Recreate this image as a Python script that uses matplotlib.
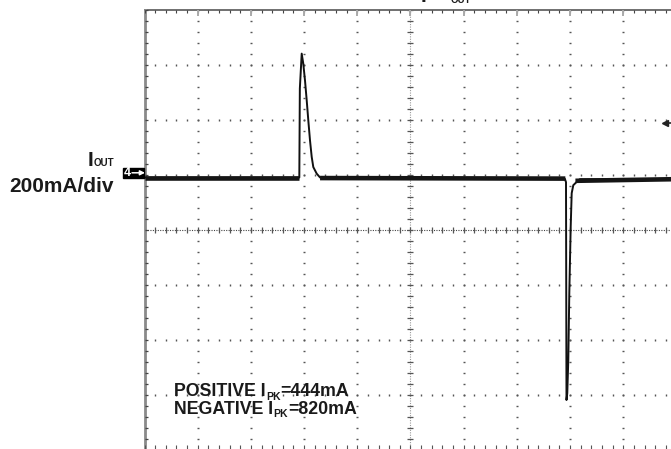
import matplotlib
matplotlib.use('Agg')
import matplotlib.pyplot as plt
import numpy as np
from matplotlib.patches import Rectangle

# ---------------- data (x: horizontal divisions, y: mA) ----------------
trace_x = [0.00, 2.91, 2.920, 2.955, 2.985, 3.017, 3.049, 3.079, 3.111, 3.143,
           3.173, 3.237, 3.300, 7.900, 7.923, 7.932, 7.947, 7.966, 7.985,
           8.011, 8.030, 8.060, 8.124, 8.186, 10.00]
trace_y = [-8, -8, 316, 443, 406, 345, 273, 200, 127, 67,
           30, 6, -8, -12, -25, -818, -793, -673, -429,
           -189, -65, -36, -24, -14, -14]
noise_x = [[0.00, 2.91], [3.30, 7.91], [8.10, 10.00]]
noise_y = [[-8, -8], [-10, -12], [-20, -14]]
trig_x, trig_level = 9.79, 190

ch_label = "I"
ch_sub = "OUT"
scale_label = "200mA/div"
ann_lines = [("POSITIVE I", "PK", "=444mA"), ("NEGATIVE I", "PK", "=820mA")]

N_XDIV, N_YDIV, MA_PER_DIV, Y_TOP = 10, 8, 200, 600
Y_BOT = Y_TOP - N_YDIV * MA_PER_DIV
Y_CENTER = (Y_TOP + Y_BOT) / 2

# ---------------- figure ----------------
W, H = 671, 449
fig = plt.figure(figsize=(W / 100, H / 100), dpi=100)
fig.patch.set_facecolor('white')
L_px, R_px, T_px, B_px = 144.5, 676.5, 10.5, 450.0
ax = fig.add_axes([L_px / W, 1 - B_px / H, (R_px - L_px) / W, (B_px - T_px) / H])
ax.set_xlim(0, N_XDIV)
ax.set_ylim(Y_BOT, Y_TOP)
ax.axis('off')
px_x = N_XDIV / (R_px - L_px)
px_y = (Y_TOP - Y_BOT) / (B_px - T_px)

minor_x = np.arange(0, N_XDIV + 1e-6, 0.2)
minor_y = np.arange(Y_BOT, Y_TOP + 1e-6, MA_PER_DIV / 5)
major_x = np.arange(1, N_XDIV)
major_y = np.arange(Y_BOT + MA_PER_DIV, Y_TOP, MA_PER_DIV)

# graticule dotted lines
for xv in major_x:
    if abs(xv - N_XDIV / 2) < 1e-6:
        continue
    ax.plot([xv] * len(minor_y), minor_y, ls='none', marker='_', ms=1.9,
            mew=1.0, color='#555555', clip_on=False)
for yv in major_y:
    if abs(yv - Y_CENTER) < 1e-6:
        continue
    ax.plot(minor_x, [yv] * len(minor_x), ls='none', marker='|', ms=1.1,
            mew=1.0, color='#555555', clip_on=False)

# center cross
ax.axvline(N_XDIV / 2, ls=(0, (1, 1.2)), color='#9a9a9a', lw=0.8)
ax.axhline(Y_CENTER, ls=(0, (1, 1.2)), color='#444444', lw=0.8)
ax.plot([N_XDIV / 2] * len(minor_y), minor_y, ls='none', marker='_', ms=5.0,
        mew=0.9, color='#555555')
ax.plot(minor_x, [Y_CENTER] * len(minor_x), ls='none', marker='|', ms=4.8,
        mew=0.9, color='#555555')

# border
ax.axhline(Y_TOP, color='#707070', lw=1.4, clip_on=False)
ax.axvline(0, color='#8a8a8a', lw=2.0, clip_on=False)
ax.vlines(minor_x, Y_TOP - 3 * px_y, Y_TOP, color='#444444', lw=0.8)
ax.vlines(major_x, Y_TOP - 6 * px_y, Y_TOP, color='#aaaaaa', lw=1.4)
ax.hlines(minor_y, 0, 3.5 * px_x, color='#444444', lw=0.9)
ax.vlines(minor_x, Y_BOT, Y_BOT + 5 * px_y, color='#555555', lw=0.8)

# trace
ax.plot(trace_x, trace_y, color='#111111', lw=1.4, zorder=5)
for sx, sy in zip(noise_x, noise_y):
    ax.plot(sx, sy, color='#151515', lw=3.3, zorder=5, solid_capstyle='butt')

# trigger marker
ax.plot([trig_x], [trig_level], marker='<', ms=5, color='#222222',
        clip_on=False, zorder=6)
ax.plot([trig_x, trig_x + 0.12], [trig_level, trig_level], color='#222222',
        lw=1.2, clip_on=False, zorder=6)

# ---------------- overlay (pixel coordinates) ----------------
ov = fig.add_axes([0, 0, 1, 1], zorder=5)
ov.set_xlim(0, W)
ov.set_ylim(H, 0)
ov.axis('off')
ov.patch.set_alpha(0)
renderer = fig.canvas.get_renderer()
FAM = 'Liberation Sans'


def seq(x, y, pieces):
    for txt, size, dy in pieces:
        t = ov.text(x, y + dy, txt, fontsize=size, fontweight='bold',
                    family=FAM, ha='left', va='baseline', color='#1a1a1a')
        x += t.get_window_extent(renderer).width


# channel label
seq(87.5, 165.5, [(ch_label, 15, 0), (ch_sub, 7, 0)])
ov.text(9, 191.5, scale_label, fontsize=15, fontweight='bold', family=FAM,
        ha='left', va='baseline', color='#1a1a1a')

# channel marker box
ov.add_patch(Rectangle((122.5, 167.5), 21.5, 10, color='black'))
ov.text(127.8, 172.8, '4', color='white', fontsize=9, fontweight='bold',
        family=FAM, ha='center', va='center')
ov.annotate('', xy=(145, 172.8), xytext=(132, 172.8),
            arrowprops=dict(arrowstyle='-|>', color='white', lw=1.1,
                            mutation_scale=7, shrinkA=0, shrinkB=0))

# annotations
for i, (a, b, c) in enumerate(ann_lines):
    yb = 396.5 + 17.5 * i
    seq(174.5, yb, [(a, 12.8, 0), (b, 7.5, 3.0), (c, 12.8, 0)])

# top cut-off label
ov.text(421, 1.8, 'I', fontsize=15, fontweight='bold', family=FAM,
        ha='left', va='baseline', color='#1a1a1a')
ov.text(451, 3.3, 'OUT', fontsize=7, fontweight='bold', family=FAM,
        ha='left', va='baseline', color='#1a1a1a')

fig.savefig('out.png', dpi=100)
